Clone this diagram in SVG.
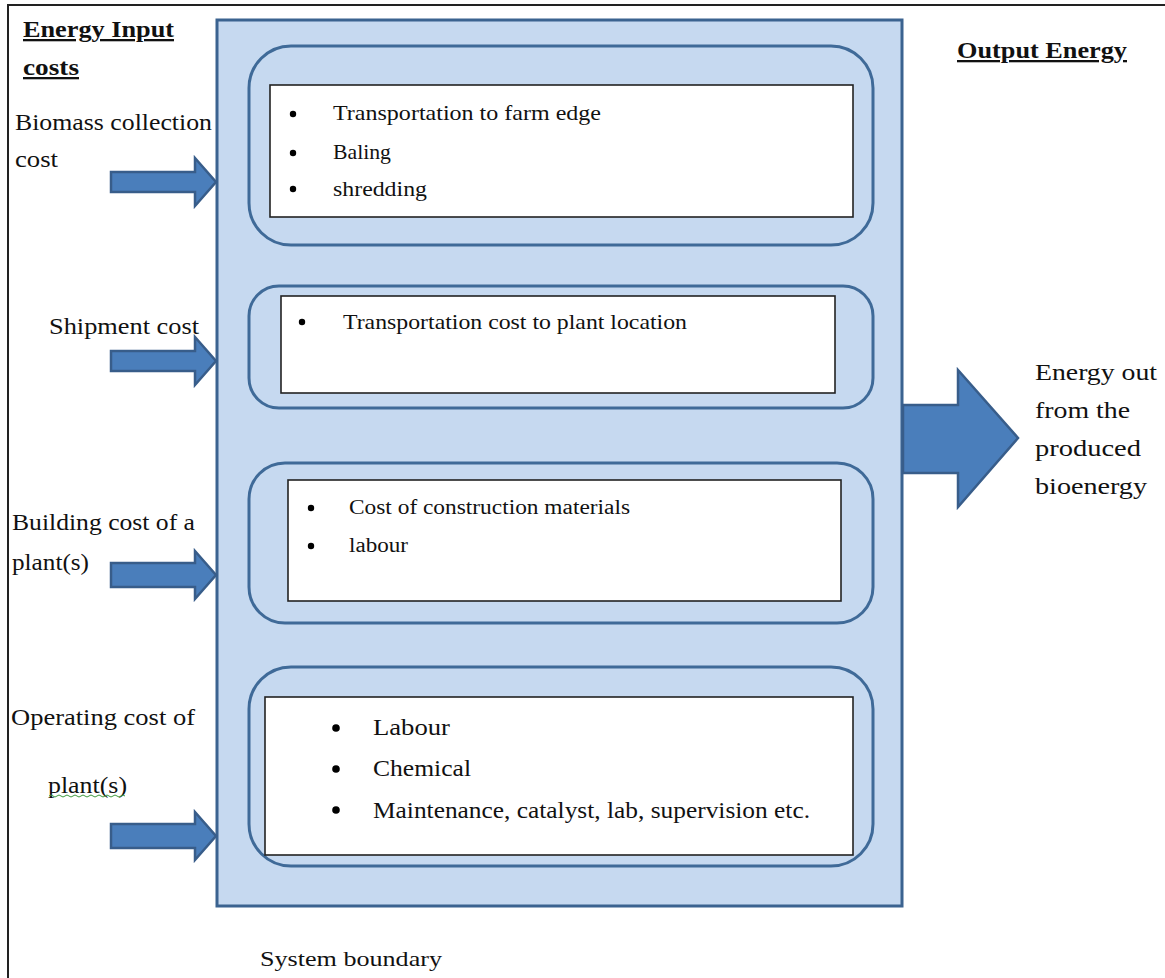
<svg xmlns="http://www.w3.org/2000/svg" width="1165" height="978" viewBox="0 0 1165 978">
<defs>
<style>
text{font-family:"Liberation Serif","Times New Roman",serif;fill:#111;}
.hd{font-weight:bold;font-size:23px;text-decoration:underline;}
.lb{font-size:23px;}
.bl{font-size:21px;}
.frame{fill:none;stroke:#222;stroke-width:2;}
.sys{fill:#C6D9F0;stroke:#3B6390;stroke-width:3;}
.grp{fill:#C6D9F0;stroke:#3F6A98;stroke-width:3;}
.box{fill:#fff;stroke:#222;stroke-width:1.6;}
.arr{fill:#4A7EBB;stroke:#385D8A;stroke-width:2.5;stroke-linejoin:miter;}
.dot{fill:#000;}
</style>
</defs>
<rect width="1165" height="978" fill="#fff"/>
<path class="frame" d="M8,978 V5 H1165"/>

<g id="system-boundary">
<rect class="sys" x="217" y="20" width="685" height="886"/>
<text class="lb" x="260" y="966" style="font-size:22px" textLength="182" lengthAdjust="spacingAndGlyphs">System boundary</text>
</g>

<g id="group-collection">
<rect class="grp" x="249" y="46" width="624" height="199" rx="42"/>
<rect class="box" x="270" y="85" width="583" height="132"/>
<circle class="dot" cx="293" cy="114" r="3.2"/>
<circle class="dot" cx="293" cy="153" r="3.2"/>
<circle class="dot" cx="293" cy="189" r="3.2"/>
<text class="bl" x="333" y="120" textLength="268" lengthAdjust="spacingAndGlyphs">Transportation  to farm edge</text>
<text class="bl" x="333" y="159" textLength="58" lengthAdjust="spacingAndGlyphs">Baling</text>
<text class="bl" x="333" y="196" textLength="94" lengthAdjust="spacingAndGlyphs">shredding</text>
</g>

<g id="group-shipment">
<rect class="grp" x="249" y="286" width="624" height="122" rx="30"/>
<rect class="box" x="281" y="296" width="554" height="97"/>
<circle class="dot" cx="302" cy="322" r="3.2"/>
<text class="bl" x="343" y="329" textLength="344" lengthAdjust="spacingAndGlyphs">Transportation  cost to plant location</text>
</g>

<g id="group-building">
<rect class="grp" x="249" y="463" width="624" height="160" rx="36"/>
<rect class="box" x="288" y="480" width="553" height="121"/>
<circle class="dot" cx="311" cy="508" r="3.2"/>
<circle class="dot" cx="311" cy="546" r="3.2"/>
<text class="bl" x="349" y="514" style="font-size:20px" textLength="281" lengthAdjust="spacingAndGlyphs">Cost of construction  materials</text>
<text class="bl" x="349" y="552" style="font-size:20px" textLength="59" lengthAdjust="spacingAndGlyphs">labour</text>
</g>

<g id="group-operating">
<rect class="grp" x="249" y="667" width="624" height="199" rx="42"/>
<rect class="box" x="265" y="697" width="588" height="158"/>
<circle class="dot" cx="336" cy="728" r="3.8"/>
<circle class="dot" cx="336" cy="769" r="3.8"/>
<circle class="dot" cx="336" cy="810" r="3.8"/>
<text class="lb" x="373" y="735" textLength="77" lengthAdjust="spacingAndGlyphs">Labour</text>
<text class="lb" x="373" y="776" textLength="98" lengthAdjust="spacingAndGlyphs">Chemical</text>
<text class="lb" x="373" y="818" textLength="437" lengthAdjust="spacingAndGlyphs">Maintenance, catalyst, lab, supervision etc.</text>
</g>

<g id="label-input-heading">
<text class="hd" x="23" y="37" textLength="151" lengthAdjust="spacingAndGlyphs">Energy Input</text>
<text class="hd" x="23" y="75" textLength="56" lengthAdjust="spacingAndGlyphs">costs</text>
</g>
<g id="label-biomass">
<text class="lb" x="15" y="130" textLength="197" lengthAdjust="spacingAndGlyphs">Biomass collection</text>
<text class="lb" x="15" y="167" textLength="43" lengthAdjust="spacingAndGlyphs">cost</text>
</g>
<g id="label-shipment">
<text class="lb" x="49" y="334" textLength="150" lengthAdjust="spacingAndGlyphs">Shipment cost</text>
</g>
<g id="label-building">
<text class="lb" x="12" y="530" textLength="183" lengthAdjust="spacingAndGlyphs">Building cost of a</text>
<text class="lb" x="12" y="570" textLength="77" lengthAdjust="spacingAndGlyphs">plant(s)</text>
</g>
<g id="label-operating">
<text class="lb" x="11" y="725" textLength="184" lengthAdjust="spacingAndGlyphs">Operating cost of</text>
<text class="lb" x="48" y="793" textLength="79" lengthAdjust="spacingAndGlyphs">plant(s)</text>
<path d="M49,796 q2,-2 4,0 t4,0 t4,0 t4,0 t4,0 t4,0 t4,0 t4,0 t4,0 t4,0 t4,0 t4,0 t4,0 t4,0 t4,0 t4,0 t4,0 t4,0 t4,0" fill="none" stroke="#3c9a3c" stroke-width="1"/>
</g>
<g id="label-output-heading">
<text class="hd" x="957" y="58" textLength="170" lengthAdjust="spacingAndGlyphs">Output Energy</text>
</g>
<g id="label-output">
<text class="lb" x="1035" y="380" style="font-size:24px" textLength="122" lengthAdjust="spacingAndGlyphs">Energy out</text>
<text class="lb" x="1035" y="418" style="font-size:24px" textLength="95" lengthAdjust="spacingAndGlyphs">from the</text>
<text class="lb" x="1035" y="456" style="font-size:24px" textLength="106" lengthAdjust="spacingAndGlyphs">produced</text>
<text class="lb" x="1035" y="494" style="font-size:24px" textLength="112" lengthAdjust="spacingAndGlyphs">bioenergy</text>
</g>

<g id="connectors">
<path class="arr" d="M111,172 H195 V158 L216,182 L195,206 V192 H111 Z"/>
<path class="arr" d="M111,351 H195 V337 L216,361 L195,385 V371 H111 Z"/>
<path class="arr" d="M111,563 H195 V551 L216,575 L195,599 V587 H111 Z"/>
<path class="arr" d="M111,824 H195 V812 L216,836 L195,860 V848 H111 Z"/>
<path class="arr" d="M903,405 H958 V370 L1018,438 L958,507 V473 H903 Z"/>
</g>
</svg>
